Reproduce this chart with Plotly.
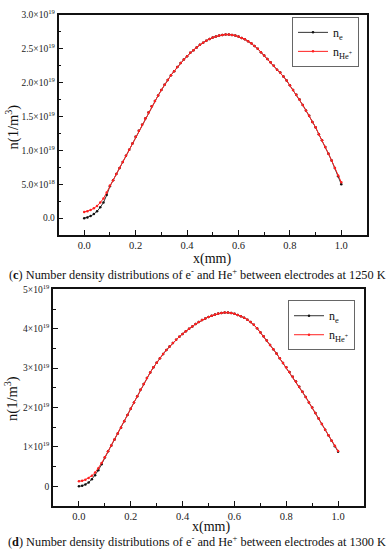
import plotly.graph_objects as go

# x positions (mm)
x_mm = [0.0, 0.0125, 0.025, 0.0375, 0.05, 0.0625, 0.075, 0.0875, 0.1, 0.1125,
        0.125, 0.1375, 0.15, 0.1625, 0.175, 0.1875, 0.2, 0.2125, 0.225, 0.2375,
        0.25, 0.2625, 0.275, 0.2875, 0.3, 0.3125, 0.325, 0.3375, 0.35, 0.3625,
        0.375, 0.3875, 0.4, 0.4125, 0.425, 0.4375, 0.45, 0.4625, 0.475, 0.4875,
        0.5, 0.5125, 0.525, 0.5375, 0.55, 0.5625, 0.575, 0.5875, 0.6, 0.6125,
        0.625, 0.6375, 0.65, 0.6625, 0.675, 0.6875, 0.7, 0.7125, 0.725, 0.7375,
        0.75, 0.7625, 0.775, 0.7875, 0.8, 0.8125, 0.825, 0.8375, 0.85, 0.8625,
        0.875, 0.8875, 0.9, 0.9125, 0.925, 0.9375, 0.95, 0.9625, 0.975, 0.9875, 1.0]

# (c) 1250 K, densities in units of 1e18 m^-3
ne_1250 = [0.0, 0.1, 0.3, 0.6, 1.0, 1.6, 2.3, 3.4, 4.7, 5.6,
           6.5, 7.4, 8.3, 9.2, 10.1, 11.0, 12.0, 12.9, 13.8, 14.7,
           15.6, 16.5, 17.3, 18.1, 18.9, 19.7, 20.4, 21.1, 21.7, 22.3,
           22.9, 23.4, 23.9, 24.4, 24.8, 25.2, 25.6, 25.9, 26.2, 26.45,
           26.65, 26.8, 26.95, 27.05, 27.1, 27.1, 27.05, 26.95, 26.8, 26.6,
           26.4, 26.1, 25.8, 25.4, 25.0, 24.5, 24.0, 23.5, 23.0, 22.5,
           21.9, 21.5, 20.9, 20.3, 19.6, 18.9, 18.2, 17.5, 16.7, 15.9,
           15.1, 14.2, 13.4, 12.4, 11.5, 10.5, 9.5, 8.5, 7.4, 6.2, 5.0]
nhe_1250 = [0.9, 1.0, 1.2, 1.45, 1.8, 2.3, 2.9, 3.8, 4.8, 5.6,
            6.5, 7.4, 8.3, 9.2, 10.1, 11.0, 12.0, 12.9, 13.8, 14.7,
            15.6, 16.5, 17.3, 18.1, 18.9, 19.7, 20.4, 21.1, 21.7, 22.3,
            22.9, 23.4, 23.9, 24.4, 24.8, 25.2, 25.6, 25.9, 26.2, 26.45,
            26.65, 26.8, 26.95, 27.05, 27.1, 27.1, 27.05, 26.95, 26.8, 26.6,
            26.4, 26.1, 25.8, 25.4, 25.0, 24.5, 24.0, 23.5, 23.0, 22.5,
            21.9, 21.5, 20.9, 20.3, 19.6, 18.9, 18.2, 17.5, 16.7, 15.9,
            15.1, 14.2, 13.4, 12.4, 11.5, 10.5, 9.5, 8.5, 7.4, 6.3, 5.3]

# (d) 1300 K, densities in units of 1e18 m^-3
ne_1300 = [0.0, 0.15, 0.5, 1.0, 1.8, 2.8, 4.1, 5.6, 7.3, 8.9,
           10.4, 11.9, 13.4, 14.9, 16.5, 18.1, 19.7, 21.3, 22.9, 24.5,
           26.0, 27.5, 28.9, 30.2, 31.4, 32.5, 33.6, 34.6, 35.5, 36.4,
           37.2, 38.0, 38.7, 39.4, 40.0, 40.6, 41.2, 41.7, 42.2, 42.6,
           43.0, 43.3, 43.6, 43.85, 44.0, 44.1, 44.1, 44.0, 43.8, 43.5,
           43.2, 42.8, 42.3, 41.7, 41.0, 40.1, 39.1, 38.1, 37.0, 35.9,
           34.8, 33.7, 32.5, 31.3, 30.2, 29.0, 27.8, 26.6, 25.3, 24.0,
           22.7, 21.3, 20.0, 18.6, 17.2, 15.8, 14.4, 13.0, 11.6, 10.2, 8.8]
nhe_1300 = [1.3, 1.4, 1.7, 2.1, 2.7, 3.5, 4.6, 5.9, 7.4, 8.9,
            10.4, 11.9, 13.4, 14.9, 16.5, 18.1, 19.7, 21.3, 22.9, 24.5,
            26.0, 27.5, 28.9, 30.2, 31.4, 32.5, 33.6, 34.6, 35.5, 36.4,
            37.2, 38.0, 38.7, 39.4, 40.0, 40.6, 41.2, 41.7, 42.2, 42.6,
            43.0, 43.3, 43.6, 43.85, 44.0, 44.1, 44.1, 44.0, 43.8, 43.5,
            43.2, 42.8, 42.3, 41.7, 41.0, 40.1, 39.1, 38.1, 37.0, 35.9,
            34.8, 33.7, 32.5, 31.3, 30.2, 29.0, 27.8, 26.6, 25.3, 24.0,
            22.7, 21.3, 20.0, 18.6, 17.2, 15.8, 14.4, 13.0, 11.6, 10.3, 9.0]

x_tickvals = [0.0, 0.2, 0.4, 0.6, 0.8, 1.0]
x_ticktext = ["0.0", "0.2", "0.4", "0.6", "0.8", "1.0"]
y1_tickvals = [0, 5, 10, 15, 20, 25, 30]
y1_ticktext = ["0.0", "5.0×10<sup>18</sup>", "1.0×10<sup>19</sup>", "1.5×10<sup>19</sup>",
               "2.0×10<sup>19</sup>", "2.5×10<sup>19</sup>", "3.0×10<sup>19</sup>"]
y2_tickvals = [0, 10, 20, 30, 40, 50]
y2_ticktext = ["0", "1×10<sup>19</sup>", "2×10<sup>19</sup>", "3×10<sup>19</sup>",
               "4×10<sup>19</sup>", "5×10<sup>19</sup>"]

name_e = "n<sub>e</sub>"
name_he = "n<sub>He<sup>+</sup></sub>"
caption_c = "(<b>c</b>) Number density distributions of e<sup>-</sup> and He<sup>+</sup> between electrodes at 1250 K"
caption_d = "(<b>d</b>) Number density distributions of e<sup>-</sup> and He<sup>+</sup> between electrodes at 1300 K"

FONT = "Liberation Serif"
BLACK = "#111111"
RED = "#ff2020"

fig = go.Figure()

def add_pair(xa, ya, ne, nhe, leg):
    fig.add_trace(go.Scatter(x=x_mm, y=ne, name=name_e, xaxis=xa, yaxis=ya, legend=leg,
                             mode="lines+markers", line=dict(color="#333333", width=1),
                             marker=dict(color=BLACK, size=2.5)))
    fig.add_trace(go.Scatter(x=x_mm, y=nhe, name=name_he, xaxis=xa, yaxis=ya, legend=leg,
                             mode="lines+markers", line=dict(color=RED, width=1),
                             marker=dict(color=RED, size=2.5)))

add_pair("x", "y", ne_1250, nhe_1250, "legend")
add_pair("x2", "y2", ne_1300, nhe_1300, "legend2")

W, H = 392, 550
axis_common = dict(showline=True, linecolor=BLACK, linewidth=1.5, mirror=True,
                   showgrid=False, zeroline=False, ticks="inside", ticklen=5,
                   tickwidth=1, tickcolor=BLACK)
xfont = dict(family=FONT, size=10.5, color="#222222")
yfont = dict(family=FONT, size=9.5, color="#222222")

fig.update_layout(
    width=W, height=H, margin=dict(l=0, r=0, t=0, b=0),
    plot_bgcolor="white", paper_bgcolor="white",
    showlegend=True,
    xaxis=dict(domain=[58.5 / W, 367 / W], range=[-0.1, 1.1], anchor="y",
               tickmode="array", tickvals=x_tickvals, ticktext=x_ticktext, tickfont=xfont,
               minor=dict(tick0=0, dtick=0.1, ticks="inside", ticklen=3, tickcolor=BLACK),
               **axis_common),
    yaxis=dict(domain=[1 - 231 / H, 1 - 8 / H], range=[-2.5, 30], anchor="x",
               tickmode="array", tickvals=y1_tickvals, ticktext=y1_ticktext, tickfont=yfont,
               minor=dict(tick0=0, dtick=2.5, ticks="inside", ticklen=3, tickcolor=BLACK),
               **axis_common),
    xaxis2=dict(domain=[53 / W, 364 / W], range=[-0.1, 1.1], anchor="y2",
                tickmode="array", tickvals=x_tickvals, ticktext=x_ticktext, tickfont=xfont,
                minor=dict(tick0=0, dtick=0.1, ticks="inside", ticklen=3, tickcolor=BLACK),
                **axis_common),
    yaxis2=dict(domain=[1 - 505.5 / H, 1 - 286 / H], range=[-5, 50], anchor="x2",
                tickmode="array", tickvals=y2_tickvals, ticktext=y2_ticktext, tickfont=yfont,
                minor=dict(tick0=0, dtick=5, ticks="inside", ticklen=3, tickcolor=BLACK),
                **axis_common),
    legend=dict(x=359 / W, y=1 - 10 / H, xanchor="right", yanchor="top",
                bgcolor="white", bordercolor="#666666", borderwidth=1,
                font=dict(family=FONT, size=12, color=BLACK),
                itemwidth=30, tracegroupgap=0),
    legend2=dict(x=355 / W, y=1 - 297 / H, xanchor="right", yanchor="top",
                 bgcolor="white", bordercolor="#666666", borderwidth=1,
                 font=dict(family=FONT, size=12, color=BLACK),
                 itemwidth=30, tracegroupgap=0),
)

annots = [
    dict(text="x(mm)", x=212 / W, y=1 - 255 / H, font=dict(size=14)),
    dict(text="x(mm)", x=211 / W, y=1 - 527 / H, font=dict(size=14)),
    dict(text="n(1/m<sup>3</sup>)", x=12 / W, y=1 - 122 / H, textangle=-90, font=dict(size=14.5)),
    dict(text="n(1/m<sup>3</sup>)", x=12 / W, y=1 - 397 / H, textangle=-90, font=dict(size=14.5)),
    dict(text=caption_c, x=197 / W, y=1 - 270 / H, font=dict(size=12.3)),
    dict(text=caption_d, x=197 / W, y=1 - 541 / H, font=dict(size=12.3)),
]
for a in annots:
    f = a.pop("font")
    f.update(family=FONT, color=BLACK)
    fig.add_annotation(xref="paper", yref="paper", showarrow=False,
                       xanchor="center", yanchor="middle", font=f, **a)

fig.write_html("out.html",
               config={"displayModeBar": False},
               post_script="document.body.style.margin='0';document.body.style.padding='0';"
                           "document.documentElement.style.overflow='hidden';"
                           "var d=document.getElementsByClassName('plotly-graph-div')[0];"
                           "d.style.position='fixed';d.style.top='0px';d.style.left='0px';")
